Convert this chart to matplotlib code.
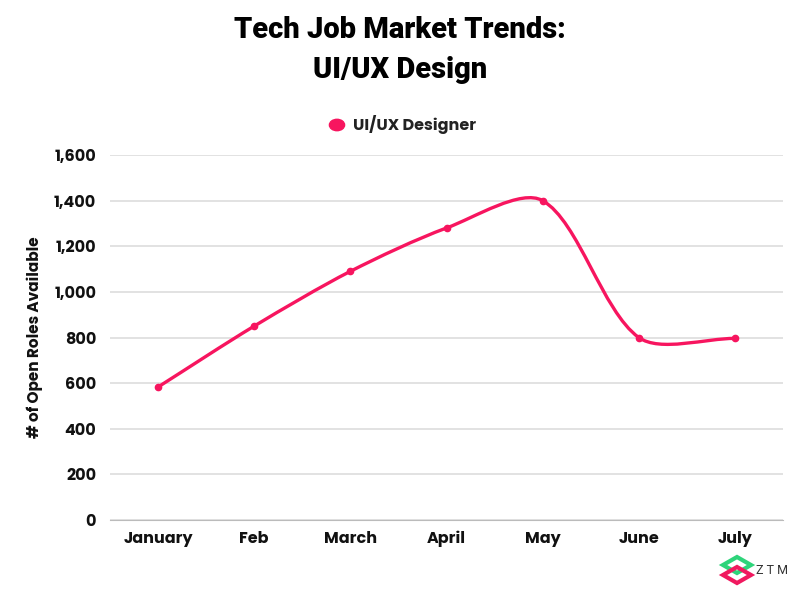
import numpy as np
import matplotlib
matplotlib.use('Agg')
import matplotlib.pyplot as plt
from matplotlib.path import Path
from matplotlib.patches import PathPatch, Polygon
from matplotlib.ticker import FuncFormatter

months = ['January', 'Feb', 'March', 'April', 'May', 'June', 'July']
open_roles = [583, 850, 1090, 1280, 1400, 800, 796]
series_name = 'UI/UX Designer'
pink = '#f7155f'

plt.rcParams['font.family'] = ['Poppins', 'Lato', 'DejaVu Sans']

fig = plt.figure(figsize=(8, 6), dpi=100)
ax = fig.add_axes([110 / 800, 80 / 600, 673 / 800, 365 / 600])
ax.set_xlim(-0.5, len(months) - 0.5)
ax.set_ylim(0, 1600)

x = np.arange(len(months))
y = np.array(open_roles, dtype=float)

# spline like chart.js, control points computed in pixel space
pts = ax.transData.transform(np.column_stack([x, y]))
tension = 0.3
n = len(pts)
cp_prev = pts.copy()
cp_next = pts.copy()
for i in range(n):
    p = pts[i]
    prv = pts[i - 1] if i > 0 else p
    nxt = pts[i + 1] if i < n - 1 else p
    d01 = np.hypot(*(p - prv))
    d12 = np.hypot(*(nxt - p))
    s01 = d01 / (d01 + d12) if d01 + d12 else 0
    s12 = d12 / (d01 + d12) if d01 + d12 else 0
    cp_prev[i] = p - tension * s01 * (nxt - prv)
    cp_next[i] = p + tension * s12 * (nxt - prv)

verts = [pts[0]]
codes = [Path.MOVETO]
for i in range(n - 1):
    verts += [cp_next[i], cp_prev[i + 1], pts[i + 1]]
    codes += [Path.CURVE4] * 3
inv = ax.transData.inverted()
verts = inv.transform(np.array(verts))
ax.add_patch(PathPatch(Path(verts, codes), facecolor='none', edgecolor=pink,
                       lw=2.4, capstyle='round', zorder=3))
ax.plot(x, y, 'o', color=pink, ms=4.5, zorder=4)

ax.set_yticks(np.arange(0, 1601, 200))
ax.yaxis.set_major_formatter(FuncFormatter(lambda v, p: f'{int(v):,}'))
ax.set_xticks(x)
ax.set_xticklabels(months)
ax.grid(axis='y', color='#dddddd', lw=1.2)
ax.set_axisbelow(True)
for s in ['top', 'right', 'left']:
    ax.spines[s].set_visible(False)
ax.spines['bottom'].set_color('#bbbbbb')
ax.tick_params(length=0, labelsize=11.5, colors='#111111')
ax.tick_params(axis='y', pad=10)
ax.tick_params(axis='x', pad=8)
for lab in ax.get_xticklabels() + ax.get_yticklabels():
    lab.set_fontweight('bold')
ax.set_ylabel('# of Open Roles Available', fontsize=11, fontweight='bold',
              color='#111111', labelpad=8)

fig.text(0.5, 1 - 30 / 600, 'Tech Job Market Trends:', ha='center', va='center',
         fontsize=21, fontweight='heavy', family=['Roboto', 'DejaVu Sans'])
fig.text(0.5, 1 - 70 / 600, 'UI/UX Design', ha='center', va='center',
         fontsize=21, fontweight='heavy', family=['Roboto', 'DejaVu Sans'])

# legend
fig.patches.append(plt.Circle((337 / 800, 1 - 125 / 600), 0.0095, color=pink,
                              transform=fig.transFigure, figure=fig))
fig.text(353 / 800, 1 - 125 / 600, series_name, ha='left', va='center',
         fontsize=11.5, fontweight='bold', color='#222222')

# logo
fig.patches.append(Polygon([[723 / 800, 1 - 565 / 600], [737 / 800, 1 - 557 / 600],
                            [751 / 800, 1 - 565 / 600], [737 / 800, 1 - 573 / 600]],
                           closed=True, fill=False, edgecolor='#2ed47a', lw=3,
                           transform=fig.transFigure))
fig.patches.append(Polygon([[723 / 800, 1 - 575 / 600], [737 / 800, 1 - 567 / 600],
                            [751 / 800, 1 - 575 / 600], [737 / 800, 1 - 583 / 600]],
                           closed=True, fill=False, edgecolor='#f0195f', lw=3,
                           transform=fig.transFigure))
fig.text(756 / 800, 1 - 571 / 600, 'Z T M', ha='left', va='center', fontsize=9,
         color='#333333', family=['Roboto', 'DejaVu Sans'])

fig.savefig('out.png', dpi=100, facecolor='white')
